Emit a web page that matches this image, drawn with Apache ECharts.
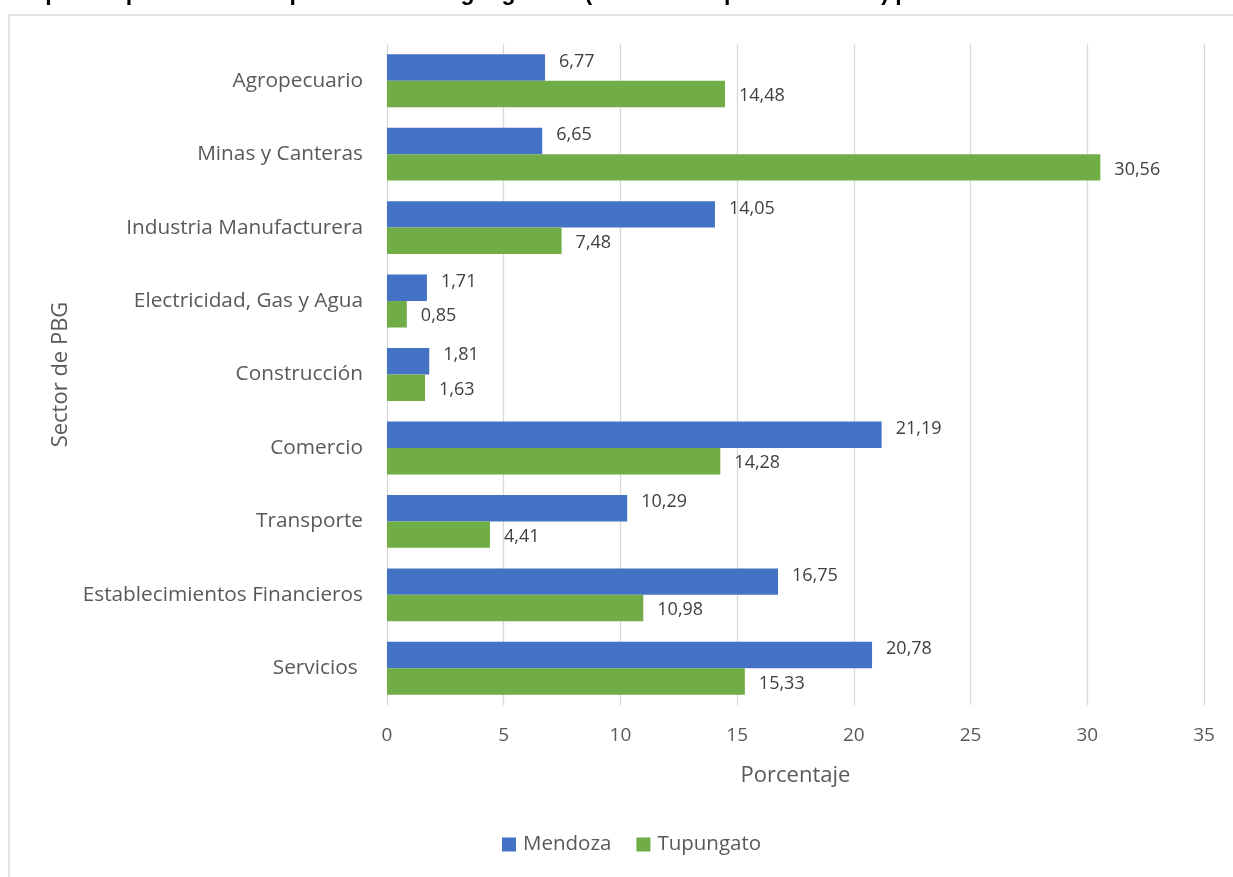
<!DOCTYPE html>
<html>
<head>
<meta charset="utf-8">
<script src="https://cdn.jsdelivr.net/npm/echarts@6/dist/echarts.min.js"></script>
<style>
  html, body { margin: 0; padding: 0; background: #fff; }
  #chart { width: 1233px; height: 877px; }
</style>
</head>
<body>
<div id="chart"></div>
<script>
// --- Data ---
var sectors = [
  'Agropecuario', 'Minas y Canteras', 'Industria Manufacturera',
  'Electricidad, Gas y Agua', 'Construcción', 'Comercio',
  'Transporte', 'Establecimientos Financieros', 'Servicios '
];
var mendoza   = [6.77, 6.65, 14.05, 1.71, 1.81, 21.19, 10.29, 16.75, 20.78];
var tupungato = [14.48, 30.56, 7.48, 0.85, 1.63, 14.28, 4.41, 10.98, 15.33];
var titleText = 'Participación porcentual del producto bruto geográfico (en miles de pesos de 1993) por sector';

var FONT = '"Open Sans", sans-serif';
var GREY = '#595959';

function fmt(p) { return p.value.toFixed(2).replace('.', ','); }

var chart = echarts.init(document.getElementById('chart'));
chart.setOption({
  animation: false,
  textStyle: { fontFamily: FONT },
  title: {
    text: titleText,
    left: -30,
    top: -23,
    textStyle: { fontFamily: 'Liberation Sans, Arial, sans-serif', fontWeight: 'bold', fontSize: 23, color: '#000' }
  },
  graphic: [{
    type: 'rect',
    shape: { x: 9, y: 15, width: 1240, height: 880 },
    style: { fill: 'none', stroke: '#d9d9d9', lineWidth: 1.5 },
    silent: true
  }],
  legend: {
    data: ['Mendoza', 'Tupungato'],
    bottom: 17,
    left: 497,
    icon: 'rect',
    itemWidth: 14,
    itemHeight: 14,
    itemGap: 25,
    textStyle: { fontFamily: FONT, fontSize: 20.5, color: GREY, padding: [0, 0, 0, 2] }
  },
  grid: { left: 387, right: 29, top: 44, bottom: 172 },
  xAxis: {
    type: 'value',
    min: 0, max: 35, interval: 5,
    name: 'Porcentaje',
    nameLocation: 'middle',
    nameGap: 60,
    nameTextStyle: { fontSize: 22, color: GREY, fontFamily: FONT },
    axisLine: { show: false },
    axisTick: { show: false },
    axisLabel: { fontSize: 19, color: GREY, margin: 21, fontFamily: FONT },
    splitLine: { lineStyle: { color: '#d9d9d9', width: 1.3 } }
  },
  yAxis: {
    type: 'category',
    data: sectors,
    inverse: true,
    name: 'Sector de PBG',
    nameLocation: 'middle',
    nameGap: 315,
    nameTextStyle: { fontSize: 22, color: GREY, fontFamily: FONT },
    axisLine: { show: false },
    axisTick: { show: false },
    axisLabel: { fontSize: 20.8, color: GREY, margin: 24, fontFamily: FONT }
  },
  series: [
    {
      name: 'Mendoza', type: 'bar', data: mendoza,
      barGap: '0%', barCategoryGap: '28%',
      itemStyle: { color: '#4472C4' },
      label: { show: true, position: 'right', distance: 14, formatter: fmt, fontSize: 18, color: '#404040', fontFamily: FONT, offset: [0, -6] }
    },
    {
      name: 'Tupungato', type: 'bar', data: tupungato,
      barGap: '0%', barCategoryGap: '28%',
      itemStyle: { color: '#70AD47' },
      label: { show: true, position: 'right', distance: 14, formatter: fmt, fontSize: 18, color: '#404040', fontFamily: FONT, offset: [0, 2] }
    }
  ]
});
</script>
</body>
</html>
